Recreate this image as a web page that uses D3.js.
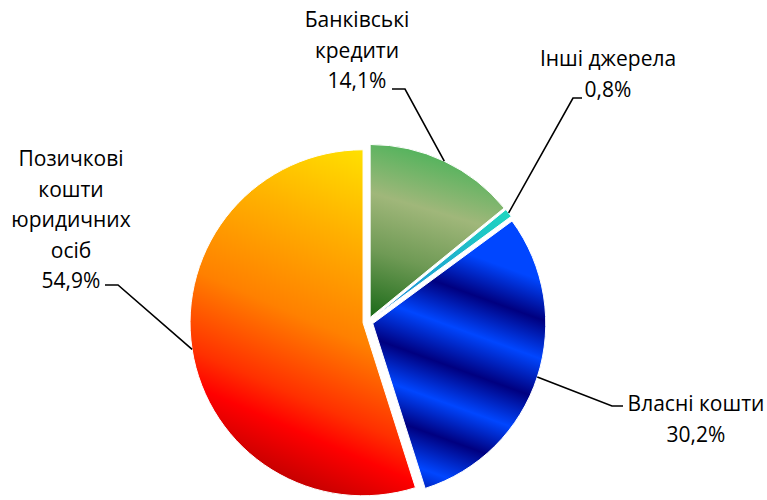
<!DOCTYPE html>
<html>
<head>
<meta charset="utf-8">
<script src="https://cdn.jsdelivr.net/npm/d3@7"></script>
<style>
  body { margin: 0; background: #fff; }
  text { font-family: "Open Sans", "Liberation Sans", sans-serif; font-size: 21px; fill: #000; }
</style>
</head>
<body>
<div id="chart"></div>
<script>
// data
const categories = ["Банківські кредити", "Інші джерела", "Власні кошти", "Позичкові кошти юридичних осіб"];
const values = [14.1, 0.8, 30.2, 54.9];
// how each category name is broken into lines on the label
const nameLines = [["Банківські", "кредити"], ["Інші джерела"], ["Власні кошти"], ["Позичкові", "кошти", "юридичних", "осіб"]];

const width = 767, height = 500;
const cx = 368, cy = 322, radius = 173, explode = 5;
const lineStep = 30.5;

// label layout: text centre x, first baseline y, elbow of leader, end of leader
const labelLayout = [
  {x: 357, y: 27, elbow: [405, 89], end: 392},
  {x: 608, y: 66, elbow: [573, 98], end: 582},
  {x: 696, y: 411, elbow: [612, 406], end: 623},
  {x: 71, y: 166, elbow: [118, 285], end: 105}
];

// gradients: direction (unit vector) and stops along it, in px from the centre
const fills = [
  {dir: [-0.28, 0.96], from: -180, to: 0,
   stops: [[-180, "#4cb35a"], [-120, "#a0b77a"], [-65, "#6f9a55"], [0, "#1a6a18"]]},
  {dir: [0.79, -0.61], from: 0, to: 175,
   stops: [[0, "#1e86dc"], [175, "#1ed6c0"]]},
  {dir: [-0.34, 0.94], from: -110, to: 200,
   stops: [[-110, "#0046ff"], [-98, "#0046ff"], [-61, "#000080"], [-24, "#0046ff"], [14, "#000080"],
           [50, "#0046ff"], [84, "#000080"], [120, "#0046ff"], [156, "#000080"], [200, "#0046ff"]]},
  {dir: [-0.4, 0.92], from: -165, to: 185,
   stops: [[-165, "#ffe400"], [-73, "#ffb000"], [19, "#ff8000"], [93, "#ff3000"], [125, "#ff0000"], [185, "#b80000"]]}
];

const svg = d3.select("#chart")
  .append("svg")
    .attr("width", width)
    .attr("height", height);

svg.append("rect").attr("width", width).attr("height", height).attr("fill", "#fff");

const defs = svg.append("defs");
fills.forEach((f, i) => {
  const g = defs.append("linearGradient")
    .attr("id", "grad" + i)
    .attr("gradientUnits", "userSpaceOnUse")
    .attr("x1", f.dir[0] * f.from).attr("y1", f.dir[1] * f.from)
    .attr("x2", f.dir[0] * f.to).attr("y2", f.dir[1] * f.to);
  f.stops.forEach(s => {
    g.append("stop")
      .attr("offset", (s[0] - f.from) / (f.to - f.from))
      .attr("stop-color", s[1]);
  });
});

const pie = d3.pie().sort(null).value(d => d).startAngle(0).endAngle(2 * Math.PI);
const arcs = pie(values);

const arc = d3.arc().innerRadius(0).outerRadius(radius);
const rim = d3.arc().innerRadius(radius).outerRadius(radius);

function shift(d) {
  const a = (d.startAngle + d.endAngle) / 2;
  return [Math.sin(a) * explode, -Math.cos(a) * explode];
}

const pieG = svg.append("g").attr("transform", `translate(${cx},${cy})`);

pieG.selectAll("path.slice")
  .data(arcs)
  .join("path")
    .attr("class", "slice")
    .attr("transform", d => `translate(${shift(d)})`)
    .attr("d", arc)
    .attr("fill", (d, i) => `url(#grad${i})`)
    .attr("stroke", "#fff")
    .attr("stroke-width", 1);

// leader lines
pieG.selectAll("path.leader")
  .data(arcs)
  .join("path")
    .attr("class", "leader")
    .attr("fill", "none")
    .attr("stroke", "#000")
    .attr("stroke-width", 1.6)
    .attr("d", (d, i) => {
      const s = shift(d), p = rim.centroid(d), L = labelLayout[i];
      const ex = L.elbow[0] - cx, ey = L.elbow[1] - cy;
      return `M${p[0] + s[0]},${p[1] + s[1]}L${ex},${ey}L${L.end - cx},${ey}`;
    });

// labels
const fmt = v => d3.format(".1f")(v).replace(".", ",") + "%";
const labels = svg.selectAll("text.label")
  .data(arcs)
  .join("text")
    .attr("class", "label")
    .attr("text-anchor", "middle");

labels.each(function(d, i) {
  const L = labelLayout[i];
  const lines = nameLines[i].concat([fmt(values[i])]);
  d3.select(this).selectAll("tspan")
    .data(lines)
    .join("tspan")
      .attr("x", L.x)
      .attr("y", (t, j) => L.y + j * lineStep)
      .text(t => t);
});
</script>
</body>
</html>
